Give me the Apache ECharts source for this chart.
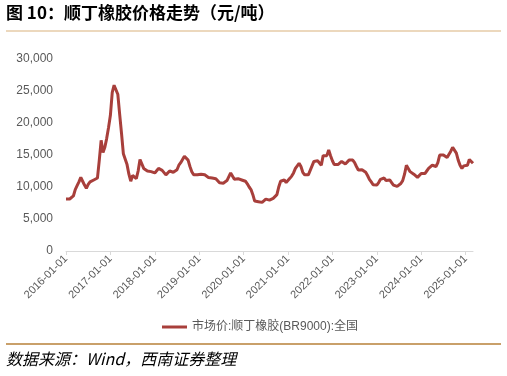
<!DOCTYPE html>
<html lang="zh">
<head>
    <meta charset="UTF-8">
    <title>顺丁橡胶价格走势</title>
    <style>
        html, body { margin: 0; padding: 0; background: #fff; }
        #myChart { width: 507px; height: 376px; }
    </style>
</head>
<body>
<div id="myChart"></div>
<script src="https://cdn.jsdelivr.net/npm/echarts@6/dist/echarts.min.js"></script>
<script>
    // half-monthly points, 2016-01-01 .. 2025-03-01
    var dates = [];
    for (var y = 2016; y <= 2025; y++) {
        for (var m = 1; m <= 12; m++) {
            if (y === 2025 && m > 3) break;
            var mm = (m < 10 ? '0' : '') + m;
            dates.push(y + '-' + mm + '-01');
            if (!(y === 2025 && m === 3)) dates.push(y + '-' + mm + '-16');
        }
    }

    var seriesName = '市场价:顺丁橡胶(BR9000):全国';
    var prices = [
        8125, 8125, 8125, 8150, 8600, 9600, 10200, 10800, 11500, 10900, 10300, 9800,
        10400, 10800, 10950, 11100, 11300, 11400, 14200, 17300, 15400, 16200, 17600, 19300,
        21200, 24800, 25900, 26000, 24500, 21400, 18400, 15200, 15000, 13500, 12000, 10900,
        11800, 11900, 11300, 12500, 14300, 14000, 12900, 12700, 12500, 12500, 12400, 12300,
        12200, 12100, 12900, 12800, 12600, 12300, 11900, 12100, 12500, 12650, 12300, 12100,
        12700, 13400, 13800, 14300, 14800, 14700, 14200, 13200, 12400, 11900, 11600, 11900,
        12100, 12000, 11900, 11900, 11700, 11500, 11350, 11400, 11350, 11300, 11000, 10650,
        10600, 10600, 10800, 11000, 11300, 12200, 12400, 11200, 10900, 11300, 11350, 11100,
        11100, 10900, 10500, 10000, 9600, 8800, 7800, 7700, 7700, 7700, 7600, 7600,
        8100, 8150, 7950, 8100, 8230, 8500, 8800, 10000, 10900, 11100, 11100, 10700,
        11000, 11350, 11700, 12200, 12900, 13300, 13700, 13200, 12300, 11900, 11700, 11900,
        12200, 13300, 14000, 14000, 14100, 13800, 13400, 14900, 14700, 14900, 15800, 14900,
        14100, 13500, 13400, 13500, 13700, 14000, 14300, 13600, 13600, 14200, 14500, 14200,
        13800, 13200, 12650, 12600, 12700, 12500, 12300, 11800, 11200, 10800, 10350, 10300,
        10300, 10700, 11200, 11500, 11400, 11000, 11000, 11100, 10700, 10300, 10100, 10100,
        10400, 10550, 11000, 12000, 13400, 12900, 12400, 12300, 12000, 11800, 11500, 11800,
        12100, 12100, 12100, 12500, 12900, 13200, 13400, 13300, 13200, 13800, 15000, 15100,
        15000, 14800, 14600, 14700, 15600, 16200, 16000, 15300, 14200, 13400, 12900, 13300,
        13200, 13400, 14300, 14200, 13700
    ];

    var yTicks = { min: 0, max: 30000, step: 5000 };

    var chart = echarts.init(document.getElementById('myChart'));

    var option = {
        animation: false,
        backgroundColor: '#fff',
        textStyle: { fontFamily: 'Liberation Sans, Arial, "Noto Sans CJK SC", sans-serif' },
        graphic: [
            {
                type: 'text', left: 6, top: 4,
                style: {
                    text: '图 10：顺丁橡胶价格走势（元/吨）',
                    font: 'bold 17px "Noto Sans CJK SC", sans-serif',
                    fill: '#000'
                }
            },
            {
                type: 'line',
                shape: { x1: 6, y1: 31, x2: 501, y2: 31 },
                style: { stroke: '#D9B27C', lineWidth: 1.2 }
            },
            {
                type: 'line',
                shape: { x1: 6, y1: 344, x2: 501, y2: 344 },
                style: { stroke: '#C9A06A', lineWidth: 2 }
            },
            {
                type: 'text', left: 6, top: 351,
                style: {
                    text: '数据来源：Wind，西南证券整理',
                    font: 'italic 16px "Noto Sans CJK SC", sans-serif',
                    fill: '#000'
                }
            }
        ],
        legend: {
            data: [seriesName],
            left: 157,
            top: 316,
            icon: 'rect',
            itemWidth: 25,
            itemHeight: 3,
            itemGap: 4,
            textStyle: { color: '#595959', fontSize: 12, fontFamily: 'Liberation Sans, Arial, "Noto Sans CJK SC", sans-serif' }
        },
        grid: { left: 66, right: 34, top: 59, bottom: 125 },
        xAxis: {
            type: 'category',
            data: dates,
            boundaryGap: false,
            axisLine: { lineStyle: { color: '#D9D9D9', width: 1 } },
            axisTick: { show: true, interval: 23, length: 4, lineStyle: { color: '#D9D9D9' } },
            axisLabel: {
                interval: 23,
                rotate: 45,
                color: '#595959',
                fontSize: 11,
                margin: 6
            },
            splitLine: { show: false }
        },
        yAxis: {
            type: 'value',
            min: yTicks.min,
            max: yTicks.max,
            interval: yTicks.step,
            axisLine: { show: false },
            axisTick: { show: false },
            splitLine: { show: false },
            axisLabel: {
                color: '#595959',
                fontSize: 12,
                margin: 13,
                formatter: function (v) {
                    return String(v).replace(/\B(?=(\d{3})+(?!\d))/g, ',');
                }
            }
        },
        series: [
            {
                name: seriesName,
                type: 'line',
                data: prices,
                symbol: 'none',
                smooth: false,
                lineStyle: { color: '#A83F3B', width: 3 },
                itemStyle: { color: '#A83F3B' }
            }
        ]
    };
    chart.setOption(option);
</script>
</body>
</html>
